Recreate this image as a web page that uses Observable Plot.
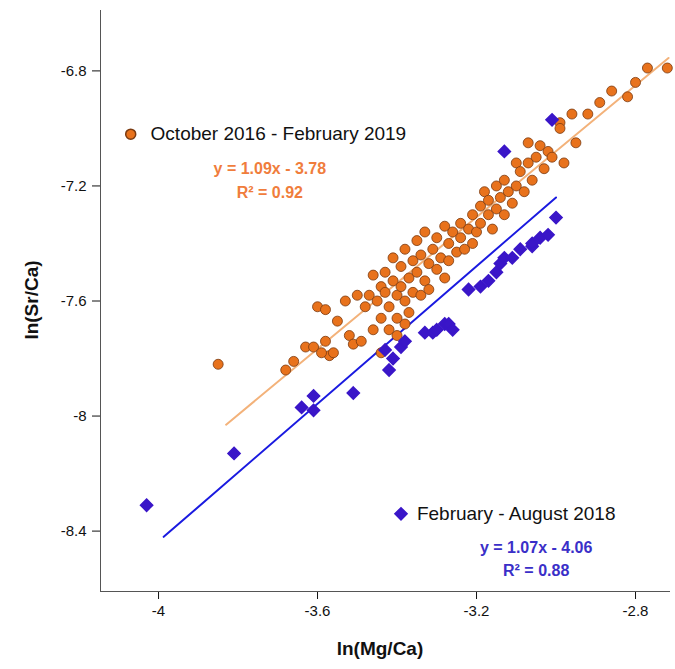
<!DOCTYPE html>
<html><head>
<script src="https://cdn.jsdelivr.net/npm/d3@7"></script>
<script src="https://cdn.jsdelivr.net/npm/@observablehq/plot@0.6"></script>
<style>body{margin:0;background:#fff}</style>
</head><body><div id="chart"></div>
<script>
const orangeX = [-3.85,-3.68,-3.66,-3.63,-3.61,-3.60,-3.58,-3.58,-3.57,-3.56,-3.55,-3.59,-3.52,-3.51,-3.50,-3.49,-3.48,-3.47,-3.46,-3.45,-3.44,-3.44,-3.43,-3.43,-3.42,-3.42,-3.41,-3.41,-3.40,-3.40,-3.39,-3.39,-3.38,-3.38,-3.37,-3.37,-3.36,-3.36,-3.35,-3.35,-3.34,-3.34,-3.33,-3.33,-3.32,-3.32,-3.31,-3.30,-3.30,-3.29,-3.28,-3.28,-3.27,-3.27,-3.26,-3.25,-3.24,-3.24,-3.23,-3.22,-3.21,-3.21,-3.20,-3.19,-3.19,-3.18,-3.17,-3.17,-3.16,-3.15,-3.15,-3.14,-3.13,-3.13,-3.12,-3.11,-3.10,-3.10,-3.09,-3.08,-3.07,-3.07,-3.06,-3.05,-3.04,-3.03,-3.02,-3.01,-2.99,-2.98,-2.96,-2.95,-2.99,-2.92,-2.89,-2.86,-2.82,-2.80,-2.77,-2.72,-3.53,-3.46,-3.44,-3.40,-3.38];
const orangeY = [-7.82,-7.84,-7.81,-7.76,-7.76,-7.62,-7.63,-7.74,-7.79,-7.78,-7.67,-7.78,-7.72,-7.75,-7.58,-7.74,-7.62,-7.58,-7.51,-7.60,-7.55,-7.66,-7.50,-7.57,-7.62,-7.70,-7.53,-7.45,-7.58,-7.66,-7.48,-7.55,-7.42,-7.60,-7.52,-7.64,-7.46,-7.57,-7.39,-7.50,-7.58,-7.44,-7.53,-7.36,-7.47,-7.56,-7.42,-7.49,-7.38,-7.45,-7.34,-7.52,-7.40,-7.46,-7.36,-7.43,-7.38,-7.33,-7.42,-7.35,-7.30,-7.40,-7.36,-7.27,-7.33,-7.22,-7.30,-7.25,-7.35,-7.20,-7.28,-7.24,-7.18,-7.30,-7.22,-7.26,-7.12,-7.20,-7.15,-7.22,-7.05,-7.12,-7.18,-7.10,-7.06,-7.14,-7.08,-7.10,-6.98,-7.12,-6.95,-7.05,-7.00,-6.95,-6.91,-6.87,-6.89,-6.84,-6.79,-6.79,-7.60,-7.70,-7.78,-7.72,-7.68];
const blueX = [-4.03,-3.81,-3.64,-3.61,-3.61,-3.51,-3.43,-3.42,-3.41,-3.39,-3.38,-3.33,-3.31,-3.30,-3.28,-3.27,-3.26,-3.22,-3.19,-3.17,-3.15,-3.14,-3.13,-3.11,-3.09,-3.06,-3.04,-3.02,-3.06,-3.00,-3.13,-3.01];
const blueY = [-8.31,-8.13,-7.97,-7.98,-7.93,-7.92,-7.77,-7.84,-7.80,-7.76,-7.74,-7.71,-7.71,-7.70,-7.68,-7.68,-7.70,-7.56,-7.55,-7.53,-7.50,-7.47,-7.45,-7.45,-7.42,-7.41,-7.38,-7.37,-7.40,-7.31,-7.08,-6.97];
// fitted lines as drawn in the figure (end points)
const orangeLineX = [-3.83, -2.717];
const orangeLineY = [-8.03, -6.755];
const blueLineX = [-3.987, -3.0];
const blueLineY = [-8.42, -7.24];
const xTicks = [-4, -3.6, -3.2, -2.8];
const yTicks = [-6.8, -7.2, -7.6, -8, -8.4];

const orange = orangeX.map((x, i) => ({x, y: orangeY[i]}));
const blue = blueX.map((x, i) => ({x, y: blueY[i]}));
const orangeLine = orangeLineX.map((x, i) => ({x, y: orangeLineY[i]}));
const blueLine = blueLineX.map((x, i) => ({x, y: blueLineY[i]}));
const lbl = (x, y, t) => [{x, y, t}];

const chart = Plot.plot({
  width: 675, height: 669,
  marginLeft: 100, marginBottom: 78, marginTop: 10, marginRight: 5,
  style: {fontFamily: "Liberation Sans, Arial", fontSize: "15px", color: "#111"},
  x: {domain: [-4.146, -2.712], label: null},
  y: {domain: [-8.61, -6.59], label: null},
  marks: [
    Plot.axisX({ticks: xTicks, tickSize: 8, tickPadding: 6, tickFormat: d => d, fontSize: 15}),
    Plot.axisY({ticks: yTicks, tickSize: 8, tickPadding: 6, tickFormat: d => d, fontSize: 15}),
    Plot.ruleX([-4.146], {stroke: "#555"}),
    Plot.ruleY([-8.61], {stroke: "#555"}),
    Plot.line(orangeLine, {x: "x", y: "y", stroke: "#f3b27a", strokeWidth: 2}),
    Plot.line(blueLine, {x: "x", y: "y", stroke: "#1a1ae0", strokeWidth: 2}),
    Plot.dot(orange, {x: "x", y: "y", r: 5, fill: "#e8721c", stroke: "#7a3a10", strokeWidth: 0.8}),
    Plot.dot(blue, {x: "x", y: "y", r: 5.5, symbol: "diamond2", fill: "#3a16c8", stroke: "#3a16c8"}),
    Plot.dot(lbl(-4.07, -7.02), {x: "x", y: "y", r: 5, fill: "#e8721c", stroke: "#7a3a10"}),
    Plot.text(lbl(-4.02, -7.02, "October 2016 - February 2019"), {x: "x", y: "y", text: "t", textAnchor: "start", fontSize: 19}),
    Plot.text(lbl(-3.72, -7.14, "y = 1.09x - 3.78"), {x: "x", y: "y", text: "t", fill: "#f07d3c", fontWeight: "bold", fontSize: 16}),
    Plot.text(lbl(-3.72, -7.225, "R² = 0.92"), {x: "x", y: "y", text: "t", fill: "#f07d3c", fontWeight: "bold", fontSize: 16}),
    Plot.dot(lbl(-3.39, -8.34), {x: "x", y: "y", r: 5.5, symbol: "diamond2", fill: "#3a16c8", stroke: "#3a16c8"}),
    Plot.text(lbl(-3.35, -8.34, "February - August 2018"), {x: "x", y: "y", text: "t", textAnchor: "start", fontSize: 19}),
    Plot.text(lbl(-3.05, -8.46, "y = 1.07x - 4.06"), {x: "x", y: "y", text: "t", fill: "#3a2fc8", fontWeight: "bold", fontSize: 16}),
    Plot.text(lbl(-3.05, -8.54, "R² = 0.88"), {x: "x", y: "y", text: "t", fill: "#3a2fc8", fontWeight: "bold", fontSize: 16})
  ]
});
const svg = d3.select(chart);
svg.append("text").attr("x", 380).attr("y", 655).attr("text-anchor", "middle")
  .attr("font-weight", "bold").attr("font-size", 19).text("ln(Mg/Ca)");
svg.append("text").attr("transform", "translate(38,300) rotate(-90)").attr("text-anchor", "middle")
  .attr("font-weight", "bold").attr("font-size", 19).text("ln(Sr/Ca)");
document.getElementById("chart").append(chart);
</script>
</body></html>
